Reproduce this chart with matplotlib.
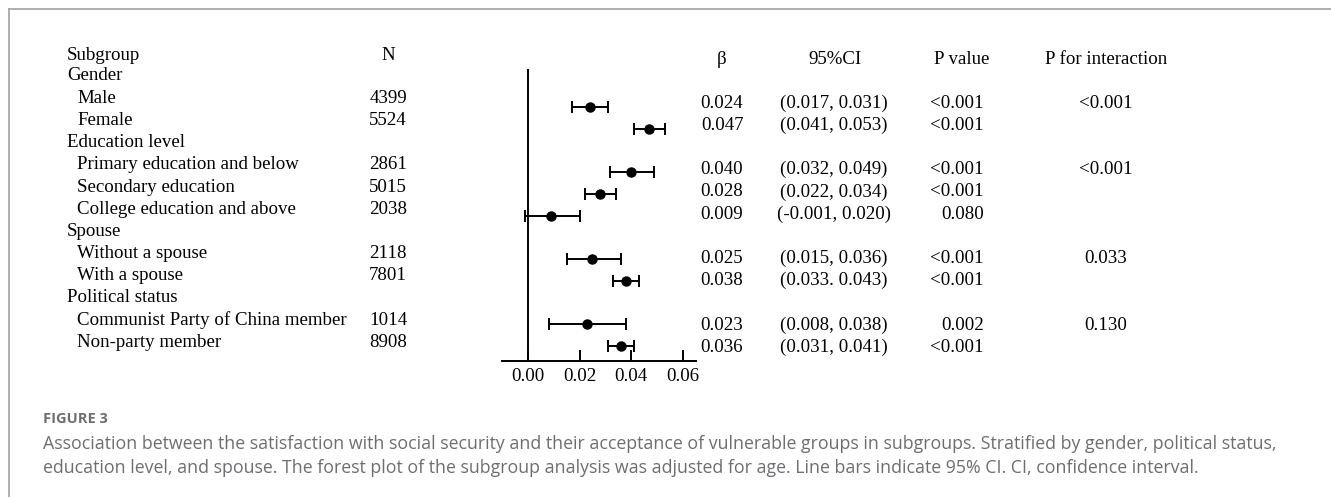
import numpy as np
import matplotlib
matplotlib.use("Agg")
import matplotlib.pyplot as plt
from matplotlib.lines import Line2D

# table content
labels = ["Gender", "Male", "Female", "Education level", "Primary education and below",
          "Secondary education", "College education and above", "Spouse",
          "Without a spouse", "With a spouse", "Political status",
          "Communist Party of China member", "Non-party member"]
is_header = [True, False, False, True, False, False, False, True, False, False, True, False, False]
n_vals = ["", "4399", "5524", "", "2861", "5015", "2038", "", "2118", "7801", "", "1014", "8908"]
beta = [None, 0.024, 0.047, None, 0.040, 0.028, 0.009, None, 0.025, 0.038, None, 0.023, 0.036]
ci_low = [None, 0.017, 0.041, None, 0.032, 0.022, -0.001, None, 0.015, 0.033, None, 0.008, 0.031]
ci_high = [None, 0.031, 0.053, None, 0.049, 0.034, 0.020, None, 0.036, 0.043, None, 0.038, 0.041]
ci_text = ["", "(0.017, 0.031)", "(0.041, 0.053)", "", "(0.032, 0.049)", "(0.022, 0.034)",
           "(-0.001, 0.020)", "", "(0.015, 0.036)", "(0.033. 0.043)", "", "(0.008, 0.038)",
           "(0.031, 0.041)"]
p_vals = ["", "<0.001", "<0.001", "", "<0.001", "<0.001", "0.080", "", "<0.001", "<0.001",
          "", "0.002", "<0.001"]
p_inter = ["", "<0.001", "", "", "<0.001", "", "", "", "0.033", "", "", "0.130", ""]
x_ticks = [0.00, 0.02, 0.04, 0.06]

W, H = 1331, 497
fig = plt.figure(figsize=(W / 100, H / 100), dpi=100)
serif = "Liberation Serif"
fs = 13.6


def fx(px):
    return px / W


def fy(py):
    return 1 - py / H


# gray frame (top and left)
fig.add_artist(Line2D([fx(9), fx(9)], [fy(9), 0], color="#a8a8a8", lw=1.3, transform=fig.transFigure))
fig.add_artist(Line2D([fx(9), 1], [fy(9), fy(9)], color="#a8a8a8", lw=1.3, transform=fig.transFigure))

# column headers
fig.text(fx(67), fy(55), "Subgroup", fontsize=fs, family=serif, va="center", ha="left")
fig.text(fx(388), fy(55), "N", fontsize=fs, family=serif, va="center", ha="center")
fig.text(fx(722), fy(59), "β", fontsize=fs, family=serif, va="center", ha="center")
fig.text(fx(835), fy(59), "95%CI", fontsize=fs, family=serif, va="center", ha="center")
fig.text(fx(962), fy(59), "P value", fontsize=fs, family=serif, va="center", ha="center")
fig.text(fx(1106), fy(59), "P for interaction", fontsize=fs, family=serif, va="center", ha="center")

row_h = 22.2
for i, lab in enumerate(labels):
    y_left = 76 + i * row_h
    y_right = 81 + i * row_h
    x_lab = 67 if is_header[i] else 77
    fig.text(fx(x_lab), fy(y_left), lab, fontsize=fs, family=serif, va="center", ha="left")
    if n_vals[i]:
        fig.text(fx(388), fy(y_left), n_vals[i], fontsize=fs, family=serif, va="center", ha="center")
    if beta[i] is not None:
        fig.text(fx(722), fy(y_right), f"{beta[i]:.3f}", fontsize=fs, family=serif, va="center", ha="center")
        fig.text(fx(834), fy(y_right), ci_text[i], fontsize=fs, family=serif, va="center", ha="center")
        fig.text(fx(984), fy(y_right), p_vals[i], fontsize=fs, family=serif, va="center", ha="right")
    if p_inter[i]:
        fig.text(fx(1106), fy(y_right), p_inter[i], fontsize=fs, family=serif, va="center", ha="center")

# forest plot
ax = fig.add_axes([fx(502), fy(361), fx(696) - fx(502), fy(70) - fy(361)])
rows = np.arange(len(labels))
for r in rows:
    if beta[r] is None:
        continue
    ax.errorbar(beta[r], r, xerr=[[beta[r] - ci_low[r]], [ci_high[r] - beta[r]]],
                fmt="o", color="black", ms=6.5, elinewidth=1.4, capsize=4.5, capthick=1.4)

row_px = 21.7
top = 1 - (107 - 70) / row_px
bottom = 1 + (361 - 107) / row_px
ax.set_ylim(bottom, top)
ax.set_xlim(-0.0101, 0.0652)
ax.spines["top"].set_visible(False)
ax.spines["right"].set_visible(False)
ax.spines["left"].set_position(("data", 0))
ax.spines["left"].set_linewidth(1.4)
ax.spines["bottom"].set_linewidth(1.4)
ax.set_yticks([])
ax.set_xticks(x_ticks)
ax.set_xticklabels([f"{t:.2f}" for t in x_ticks], fontsize=fs, family=serif)
ax.tick_params(axis="x", direction="in", length=8, width=1.4, pad=5)
ax.patch.set_alpha(0)

# caption
cap_font = "Open Sans"
fig.text(fx(43), fy(419), "FIGURE 3", fontsize=10.5, family=cap_font, weight="bold",
         color="#6d6e71", va="center", ha="left")
fig.text(fx(43), fy(444),
         "Association between the satisfaction with social security and their acceptance of vulnerable groups in subgroups. Stratified by gender, political status,",
         fontsize=12.8, family=cap_font, color="#6d6e71", va="center", ha="left")
fig.text(fx(43), fy(468),
         "education level, and spouse. The forest plot of the subgroup analysis was adjusted for age. Line bars indicate 95% CI. CI, confidence interval.",
         fontsize=12.8, family=cap_font, color="#6d6e71", va="center", ha="left")

fig.savefig("out.png", dpi=100)
